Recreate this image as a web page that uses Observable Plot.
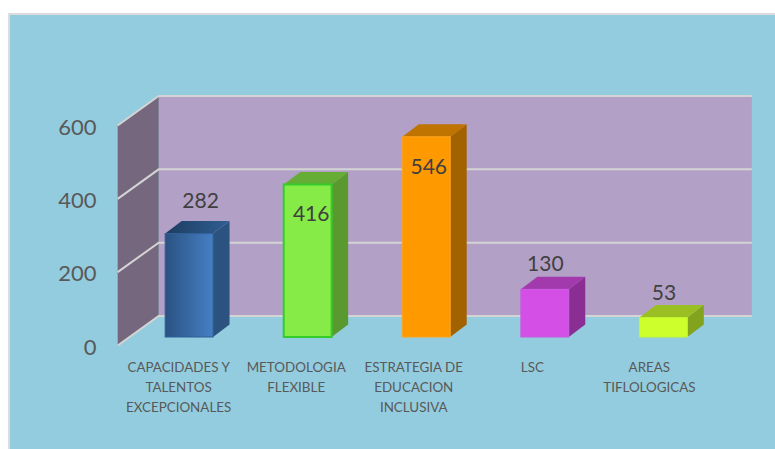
<!DOCTYPE html>
<html>
<head>
<meta charset="utf-8">
<script src="https://cdn.jsdelivr.net/npm/d3@7"></script>
<script src="https://cdn.jsdelivr.net/npm/@observablehq/plot@0.6"></script>
<style>
  html, body { margin: 0; padding: 0; background: #fff; overflow: hidden; }
  #panel { position: absolute; left: 8px; top: 13px; width: 775px; height: 449px; box-sizing: border-box;
           background: #93ccde; border-left: 2px solid #dcdcdc; border-top: 2px solid #dcdcdc; }
  #chart { position: absolute; left: 0; top: 0; width: 775px; height: 449px; }
  #chart svg { display: block; background: transparent; }
</style>
</head>
<body>
<div id="panel"></div>
<div id="chart"></div>
<script>
const categories = [
  "CAPACIDADES Y\nTALENTOS\nEXCEPCIONALES",
  "METODOLOGIA\nFLEXIBLE",
  "ESTRATEGIA DE\nEDUCACION\nINCLUSIVA",
  "LSC",
  "AREAS\nTIFLOLOGICAS"
];
const values = [282, 416, 546, 130, 53];
const yTicks = [0, 200, 400, 600];
const frontColors = ["url(#blueFront)", "#86ea47", "#ff9900", "#d44fe6", "#ccff2c"];
const edgeColors = ["#2f5f96", "#33cc2a", "#ffa31a", "#c85ae0", "#c4f52e"];
const sideColors = ["#2c5380", "#5a9930", "#a36200", "#8a2e94", "#82a31e"];
const topColors = ["url(#blueTop)", "#66ad36", "#bf7300", "#a239ac", "#9abf22"];
const labelNudge = [[11, -33], [3, 29], [2, 30], [0, -26], [0, -25]];
const categoryNudge = [-11, -12, -13, -13, -14.5];

const table = categories.map((category, i) => ({category, value: values[i], i}));
const SVGNS = "http://www.w3.org/2000/svg";
const depth = [16.5, -12.5];

function el(doc, name, attrs) {
  const n = doc.createElementNS(SVGNS, name);
  for (const k in attrs) n.setAttribute(k, attrs[k]);
  return n;
}
function stops(doc, id, x2, y2, from, to) {
  const g = el(doc, "linearGradient", {id, x1: 0, y1: 0, x2, y2});
  g.appendChild(el(doc, "stop", {offset: "0%", "stop-color": from}));
  g.appendChild(el(doc, "stop", {offset: "100%", "stop-color": to}));
  return g;
}
// Gradient definitions plus the 3D back wall, side wall and gridlines, placed through the y and x scales.
function wallMark(index, scales, channels, dimensions, context) {
  const doc = context.document;
  const g = el(doc, "g", {});
  const defs = el(doc, "defs", {});
  defs.appendChild(stops(doc, "blueFront", 1, 0, "#2a5282", "#467fc4"));
  defs.appendChild(stops(doc, "blueTop", 1, 0, "#1d3d60", "#305e92"));
  g.appendChild(defs);
  const y = scales.y, x0 = scales.x(categories[0]), xn = scales.x(categories[categories.length - 1]) + scales.x.bandwidth();
  const fx = x0 - 47.5, bx = fx + 41, rx = xn + 64.5;
  const fy = v => y(v) + 8.5, by = v => y(v) - 21;
  g.appendChild(el(doc, "rect", {x: bx, y: by(600), width: rx - bx, height: by(0) - by(600), fill: "#b3a0c6"}));
  g.appendChild(el(doc, "polygon", {points: `${fx},${fy(0)} ${bx},${by(0)} ${bx},${by(600)} ${fx},${fy(600)}`, fill: "#74677e"}));
  for (const t of yTicks) {
    g.appendChild(el(doc, "path", {d: `M${fx},${fy(t)}L${bx},${by(t)}L${rx},${by(t)}`, fill: "none", stroke: "#d4d4d4", "stroke-width": 2}));
  }
  return g;
}
// Adds the top and side faces of each box around the bar's own scaled geometry.
function boxFaces(index, scales, channels, dimensions, context, next) {
  const doc = context.document;
  const g = el(doc, "g", {});
  const [dx, dy] = depth;
  for (const i of index) {
    const d = table[i];
    const l = scales.x(d.category), r = l + scales.x.bandwidth();
    const t = scales.y(d.value), b = scales.y(0);
    g.appendChild(el(doc, "polygon", {points: `${r},${t} ${r + dx},${t + dy} ${r + dx},${b + dy} ${r},${b}`, fill: sideColors[i]}));
    g.appendChild(el(doc, "polygon", {points: `${l},${t} ${l + dx},${t + dy} ${r + dx},${t + dy} ${r},${t}`, fill: topColors[i]}));
  }
  g.appendChild(next(index, scales, channels, dimensions, context));
  return g;
}

const chart = Plot.plot({
  width: 775,
  height: 449,
  marginLeft: 94.5,
  marginRight: 17,
  marginTop: 117,
  marginBottom: 112,
  style: {background: "transparent", fontFamily: "Lato, 'Open Sans', sans-serif", overflow: "visible"},
  x: {type: "band", domain: categories, padding: 0.596, round: false, label: null},
  y: {domain: [0, 600], label: null},
  marks: [
    wallMark,
    Plot.barY(table, {
      x: "category",
      y: "value",
      fill: {value: d => frontColors[d.i], scale: null},
      stroke: {value: d => edgeColors[d.i], scale: null},
      strokeWidth: d => d.i === 1 ? 2 : 1,
      render: boxFaces
    }),
    ...table.map((d, i) => Plot.text([d], {
      x: "category",
      y: "value",
      text: "value",
      dx: labelNudge[i][0],
      dy: labelNudge[i][1],
      fontSize: 21,
      fill: "#404040"
    })),
    Plot.axisY({
      ticks: yTicks,
      tickSize: 0,
      tickPadding: -1.5,
      dy: 10,
      fontSize: 22,
      color: "#595959",
      label: null
    }),
    ...categories.map((c, i) => Plot.axisX({
      ticks: [c],
      tickSize: 0,
      tickPadding: 20,
      dx: categoryNudge[i],
      fontSize: 13.4,
      lineHeight: 1.5,
      color: "#595959",
      label: null,
      tickFormat: d => d
    }))
  ]
});
document.getElementById("chart").appendChild(chart);
</script>
</body>
</html>
